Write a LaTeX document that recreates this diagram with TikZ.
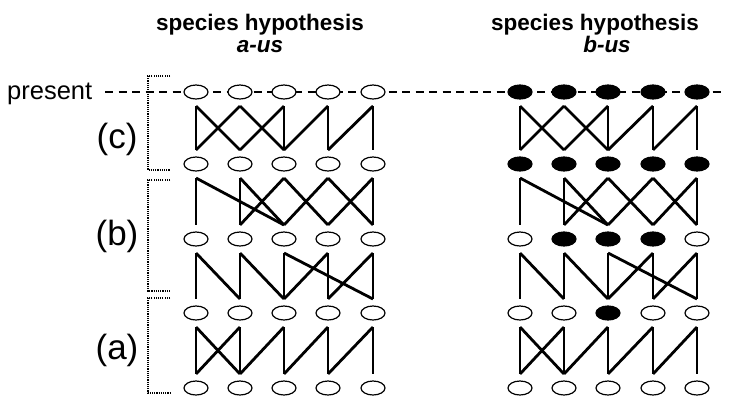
\documentclass[tikz,border=0pt]{standalone}
\usepackage{fontspec}
\setmainfont{Liberation Sans}
\usetikzlibrary{shapes.geometric}
\begin{document}
\begin{tikzpicture}[x=1pt,y=-1pt,
  ind/.style={ellipse,draw,line width=1.2pt,minimum width=24pt,minimum height=14pt,inner sep=0pt},
  link/.style={line width=2.8pt},
  brk/.style={line width=2pt,dash pattern=on 1.1pt off 1.1pt},
  pres/.style={line width=1.2pt,dash pattern=on 8pt off 5.5pt},
  lbl/.style={font=\fontsize{35}{38}\selectfont,inner sep=0pt},
  ttl/.style={font=\fontsize{22.5}{26}\selectfont\bfseries,inner sep=0pt,anchor=base},
  ttli/.style={font=\fontsize{22.5}{26}\selectfont\bfseries\itshape,inner sep=0pt,anchor=base}]
\useasboundingbox (0,0) rectangle (741,397);

% titles
\node[ttl] (tA) at (260,30) {species hypothesis};
\node[ttli] (sA) at (260,52) {a-us};
\node[ttl] (tB) at (595,30) {species hypothesis};
\node[ttli] (sB) at (607,52) {b-us};

% present label and dashed line
\node[font=\fontsize{25.5}{28}\selectfont,inner sep=0pt,anchor=base west] (present) at (7,99) {present};
\coordinate (dstart) at (105,92);
\coordinate (dend) at (721,92);
\draw[pres] (dstart) -- (dend);

% brackets
\draw[brk] (170,76) -- (148,76) -- (148,170) -- (170,170);
\draw[brk] (170,180) -- (148,180) -- (148,291) -- (170,291);
\draw[brk] (170,298) -- (148,298) -- (148,393) -- (170,393);
\node[lbl] (lc) at (117,139) {(c)};
\node[lbl] (lb) at (117,236) {(b)};
\node[lbl] (la) at (117,350) {(a)};

% individuals
\foreach \r/\y in {1/92,2/164,3/239,4/313,5/388}{
  \foreach \c/\x in {1/196,2/240,3/284,4/328,5/373}{
    \node[ind,fill=white] (L-\r-\c) at (\x,\y) {};
  }
  \foreach \c/\x in {1/520,2/564,3/608,4/653,5/697}{
    \pgfmathtruncatemacro\isf{((\r<=2)||(\r==3&&\c>=2&&\c<=4)||(\r==4&&\c==3))?1:0}
    \ifnum\isf=1 \def\fc{black}\else\def\fc{white}\fi
    \node[ind,fill=\fc] (R-\r-\c) at (\x,\y) {};
  }
}

% genealogical links
\foreach \S in {L,R}{
  % band (c): rows 1-2
  \foreach \t/\b in {1/1,1/2,2/1,2/3,3/2,3/3,4/3,4/4,5/4,5/5}
    \draw[link] ([yshift=-14pt]\S-1-\t.center) -- ([yshift=14pt]\S-2-\b.center);
  % band (b) upper: rows 2-3
  \foreach \t/\b in {1/1,1/3,2/2,2/3,3/2,3/4,4/3,4/5,5/4,5/5}
    \draw[link] ([yshift=-14pt]\S-2-\t.center) -- ([yshift=14pt]\S-3-\b.center);
  % band (b) lower: rows 3-4
  \foreach \t/\b in {1/1,1/2,2/2,2/3,3/3,3/5,4/3,4/4,5/4,5/5}
    \draw[link] ([yshift=-14pt]\S-3-\t.center) -- ([yshift=14pt]\S-4-\b.center);
  % band (a): rows 4-5
  \foreach \t/\b in {1/1,1/2,2/1,2/2,3/2,3/3,4/3,4/4,5/4,5/5}
    \draw[link] ([yshift=-14pt]\S-4-\t.center) -- ([yshift=14pt]\S-5-\b.center);
}
\end{tikzpicture}
\end{document}
